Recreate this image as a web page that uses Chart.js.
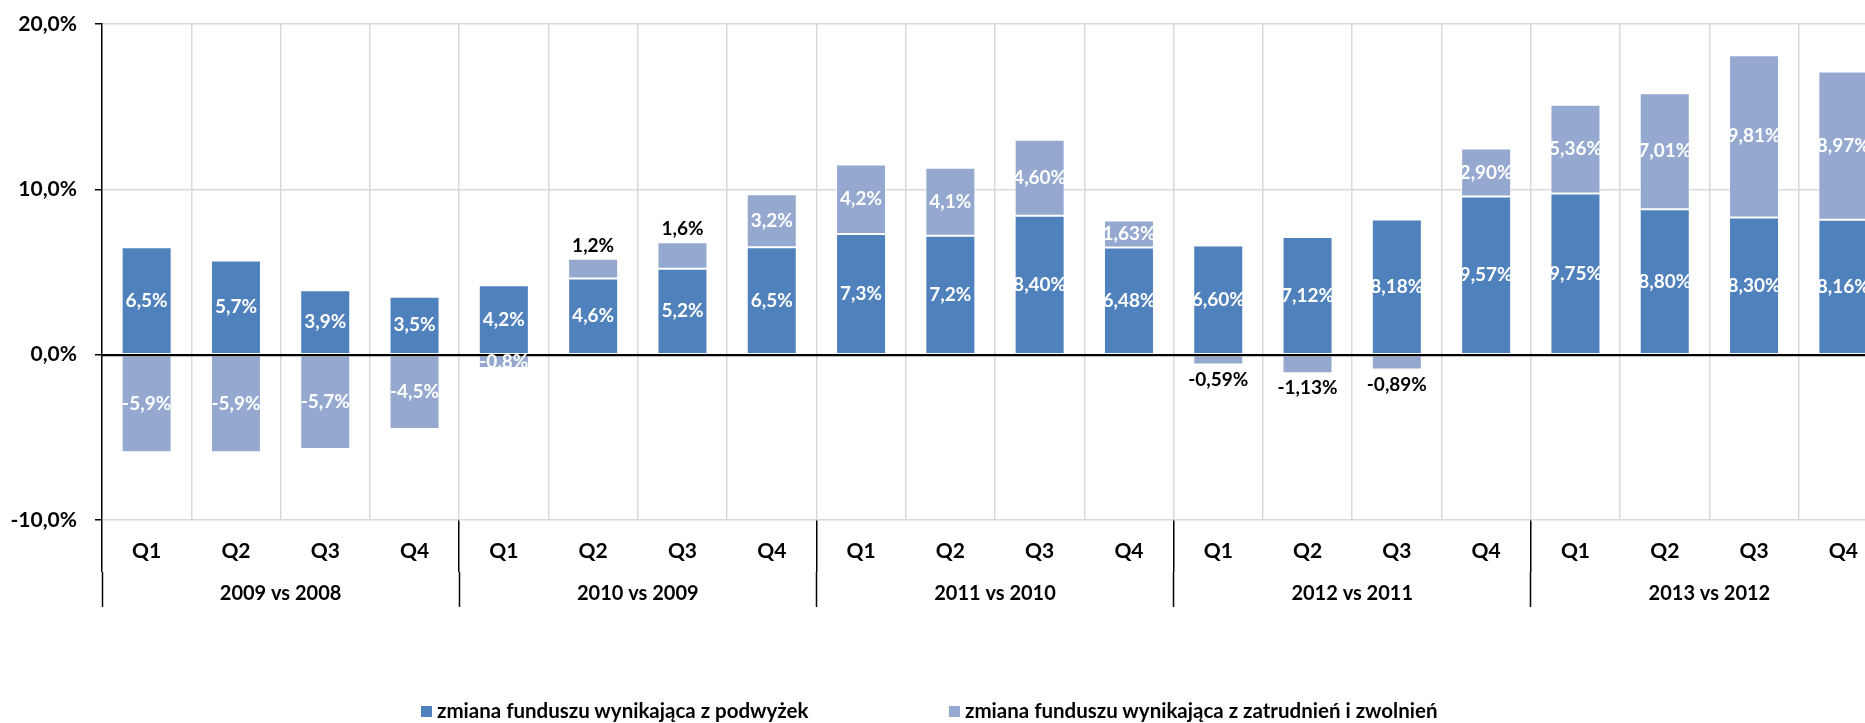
<!DOCTYPE html>
<html>
<head>
<meta charset="utf-8">
<script src="https://cdn.jsdelivr.net/npm/chart.js@4.4.1/dist/chart.umd.min.js"></script>
<style>
    html, body { margin: 0; padding: 0; background: #fff; overflow: hidden; }
    #wrap { position: relative; width: 1865px; height: 723px; overflow: hidden; }
    #chart { position: absolute; left: 0; top: 0; }
    .legend-item { position: absolute; top: 698px; height: 24px; white-space: nowrap; }
    .legend-box { position: absolute; left: 0; top: 8px; width: 11px; height: 11px; }
    .legend-text { position: absolute; left: 16px; top: 0; font: bold 20.5px Lato, sans-serif; line-height: 24px; color: #000; }
</style>
</head>
<body>
<div id="wrap">
    <canvas id="chart" width="1890" height="723"></canvas>
    <div id="legend"></div>
</div>
<script>
// quarters on the first axis row, year comparisons on the second
var quarters = ['Q1', 'Q2', 'Q3', 'Q4', 'Q1', 'Q2', 'Q3', 'Q4', 'Q1', 'Q2', 'Q3', 'Q4',
                'Q1', 'Q2', 'Q3', 'Q4', 'Q1', 'Q2', 'Q3', 'Q4'];
var groups = ['2009 vs 2008', '2010 vs 2009', '2011 vs 2010', '2012 vs 2011', '2013 vs 2012'];

// zmiana funduszu wynikająca z podwyżek
var raises = [6.5, 5.7, 3.9, 3.5, 4.2, 4.6, 5.2, 6.5, 7.3, 7.2, 8.40, 6.48,
              6.60, 7.12, 8.18, 9.57, 9.75, 8.80, 8.30, 8.16];
var raisesText = ['6,5%', '5,7%', '3,9%', '3,5%', '4,2%', '4,6%', '5,2%', '6,5%', '7,3%', '7,2%', '8,40%', '6,48%',
                  '6,60%', '7,12%', '8,18%', '9,57%', '9,75%', '8,80%', '8,30%', '8,16%'];

// zmiana funduszu wynikająca z zatrudnień i zwolnień
var staffing = [-5.9, -5.9, -5.7, -4.5, -0.8, 1.2, 1.6, 3.2, 4.2, 4.1, 4.60, 1.63,
                -0.59, -1.13, -0.89, 2.90, 5.36, 7.01, 9.81, 8.97];
var staffingText = ['-5,9%', '-5,9%', '-5,7%', '-4,5%', '-0,8%', '1,2%', '1,6%', '3,2%', '4,2%', '4,1%', '4,60%', '1,63%',
                    '-0,59%', '-1,13%', '-0,89%', '2,90%', '5,36%', '7,01%', '9,81%', '8,97%'];
// points whose label sits outside the bar, in black
var staffingOutside = [5, 6, 12, 13, 14];

var valueTexts = [raisesText, staffingText];
var outsideLabels = [[], staffingOutside];

var boldFont = function (size) {
    return { family: 'Lato', weight: 'bold', size: size };
};

// zero line over the bars and the value labels
var valueLabels = {
    id: 'valueLabels',
    afterDatasetsDraw: function (chart) {
        var ctx = chart.ctx;
        var area = chart.chartArea;
        var zero = Math.round(chart.scales.y.getPixelForValue(0)) + 0.5;
        ctx.save();
        ctx.strokeStyle = '#000';
        ctx.lineWidth = 1.5;
        ctx.beginPath();
        ctx.moveTo(area.left, zero);
        ctx.lineTo(area.right, zero);
        ctx.stroke();

        ctx.font = 'bold 19px Lato';
        ctx.textAlign = 'center';
        ctx.textBaseline = 'middle';
        chart.data.datasets.forEach(function (ds, di) {
            var meta = chart.getDatasetMeta(di);
            meta.data.forEach(function (bar, i) {
                var p = bar.getProps(['x', 'y', 'base'], true);
                var text = valueTexts[di][i];
                if (outsideLabels[di].indexOf(i) >= 0) {
                    ctx.fillStyle = '#000';
                    ctx.fillText(text, p.x, ds.data[i] >= 0 ? p.y - 13 : p.y + 15);
                } else {
                    ctx.fillStyle = '#fff';
                    ctx.fillText(text, p.x, (p.y + p.base) / 2);
                }
            });
        });
        ctx.restore();
    }
};

var chart = new Chart(document.getElementById('chart').getContext('2d'), {
    type: 'bar',
    data: {
        labels: quarters,
        datasets: [{
            label: 'zmiana funduszu wynikająca z podwyżek',
            data: raises,
            backgroundColor: '#4F81BD',
            borderColor: 'rgba(255,255,255,0.9)',
            borderWidth: 1,
            borderSkipped: false,
            categoryPercentage: 1,
            barPercentage: 0.56
        }, {
            label: 'zmiana funduszu wynikająca z zatrudnień i zwolnień',
            data: staffing,
            backgroundColor: '#95A9D0',
            borderColor: 'rgba(255,255,255,0.9)',
            borderWidth: 1,
            borderSkipped: false,
            categoryPercentage: 1,
            barPercentage: 0.56
        }]
    },
    options: {
        responsive: false,
        animation: false,
        devicePixelRatio: 1,
        layout: { padding: { top: 24, left: 8, right: 2, bottom: 116 } },
        plugins: {
            legend: { display: false },
            tooltip: { enabled: false }
        },
        scales: {
            x: {
                stacked: true,
                grid: {
                    offset: true,
                    color: function (c) { return c.index === 0 ? 'rgba(0,0,0,0)' : '#d9d9d9'; },
                    lineWidth: 1.5,
                    tickColor: function (c) { return c.index % 4 === 0 ? '#000' : 'rgba(0,0,0,0)'; },
                    tickLength: 52,
                    tickWidth: 1.5
                },
                border: { display: false },
                ticks: { color: '#000', font: boldFont(21), padding: -33, maxRotation: 0, autoSkip: false },
                afterFit: function (s) { s.height = 52; }
            },
            x2: {
                type: 'category',
                labels: groups,
                position: 'bottom',
                offset: true,
                grid: {
                    offset: true,
                    drawOnChartArea: false,
                    tickColor: '#000',
                    tickLength: 35,
                    tickWidth: 1.5
                },
                border: { display: false },
                ticks: { color: '#000', font: boldFont(20), padding: -25, maxRotation: 0, autoSkip: false },
                afterFit: function (s) { s.height = 35; }
            },
            y: {
                stacked: true,
                min: -10,
                max: 20,
                ticks: {
                    stepSize: 10,
                    color: '#000',
                    font: boldFont(21),
                    padding: 18,
                    callback: function (v) { return v.toFixed(1).replace('.', ',') + '%'; }
                },
                grid: {
                    color: function (c) { return c.tick && c.tick.value === 0 ? '#000' : '#d9d9d9'; },
                    lineWidth: 1.5,
                    tickColor: '#000',
                    tickLength: 7,
                    tickWidth: 1.5
                },
                border: { color: '#000', width: 1.5 },
                afterFit: function (s) {
                    s.width = 94;
                    // only half a label is needed above the top tick
                    s.paddingTop = 12;
                    s.paddingBottom = 12;
                }
            }
        }
    },
    plugins: [valueLabels]
});

// legend below the chart, built from the datasets
var legendLeft = [421, 949];
var legend = document.getElementById('legend');
chart.data.datasets.forEach(function (ds, i) {
    var item = document.createElement('div');
    item.className = 'legend-item';
    item.style.left = legendLeft[i] + 'px';
    var box = document.createElement('span');
    box.className = 'legend-box';
    box.style.background = ds.backgroundColor;
    var text = document.createElement('span');
    text.className = 'legend-text';
    text.textContent = ds.label;
    item.appendChild(box);
    item.appendChild(text);
    legend.appendChild(item);
});
</script>
</body>
</html>
